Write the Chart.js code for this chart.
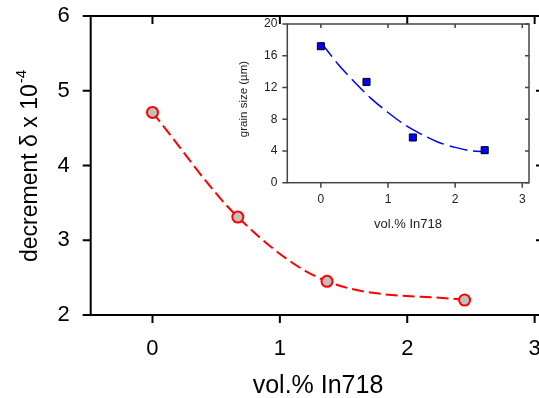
<!DOCTYPE html>
<html lang="en">
<head>
  <meta charset="UTF-8" />
  <title>Damping decrement vs vol.% In718</title>
  <script src="https://cdn.jsdelivr.net/npm/chart.js"></script>
  <style>
    html, body { margin: 0; padding: 0; background: #fff; overflow: hidden; }
    #wrap { position: relative; width: 539px; height: 398px; overflow: hidden; }
    #mainChart { position: absolute; left: 0; top: 0; }
    #insetChart { position: absolute; left: 0; top: 0; }
  </style>
</head>
<body>
  <div id="wrap">
    <canvas id="mainChart" width="560" height="398"></canvas>
    <canvas id="insetChart" width="539" height="398"></canvas>
  </div>

  <script>
    // main plot: decrement vs vol.% In718
    const volPct = [0, 0.67, 1.37, 2.45];
    const decrement = [4.71, 3.31, 2.45, 2.2];
    const mainXTicks = [0, 1, 2, 3];
    const mainYTicks = [2, 3, 4, 5, 6];

    // inset: grain size vs vol.% In718
    const grainVol = [0, 0.68, 1.37, 2.44];
    const grainSize = [17.2, 12.7, 5.7, 4.1];
    // dashed fit curve
    const fitVol = [0, 0.25, 0.5, 0.75, 1.0, 1.25, 1.5, 1.75, 2.0, 2.25, 2.45];
    const fitSize = [17.7, 15.0, 12.7, 10.6, 8.85, 7.3, 6.1, 5.1, 4.45, 4.0, 3.9];
    const insetXTicks = [0, 1, 2, 3];
    const insetYTicks = [0, 4, 8, 12, 16, 20];

    const FONT = '"Liberation Sans", Arial, sans-serif';

    function toPoints(xs, ys) {
      return xs.map((x, i) => ({ x: x, y: ys[i] }));
    }

    // draws box axes with tick marks (out on left/bottom, in on top/right)
    function drawFrame(chart, o) {
      const { ctx, chartArea: a } = chart;
      const x = chart.scales.x, y = chart.scales.y;
      ctx.save();
      ctx.strokeStyle = o.color;
      ctx.lineWidth = o.width;
      ctx.strokeRect(a.left, a.top, a.right - a.left, a.bottom - a.top);
      ctx.beginPath();
      x.ticks.forEach(t => {
        const px = x.getPixelForValue(t.value);
        ctx.moveTo(px, a.bottom); ctx.lineTo(px, a.bottom + o.out);
        ctx.moveTo(px, a.top); ctx.lineTo(px, a.top + o.inTop);
      });
      y.ticks.forEach(t => {
        const py = y.getPixelForValue(t.value);
        ctx.moveTo(a.left - o.out, py); ctx.lineTo(a.left, py);
        ctx.moveTo(a.right, py); ctx.lineTo(a.right - o.inRight, py);
      });
      ctx.stroke();
      ctx.restore();
    }

    const mainFrame = {
      id: 'mainFrame',
      afterDraw(chart) {
        drawFrame(chart, { color: '#000', width: 2, out: 8, inTop: 8, inRight: 5 });
        const ctx = chart.ctx;
        ctx.save();
        ctx.fillStyle = '#000';
        ctx.font = '25px ' + FONT;
        ctx.textAlign = 'center';
        ctx.textBaseline = 'alphabetic';
        ctx.fillText('vol.% In718', 318, 393);

        ctx.translate(37, 262);
        ctx.rotate(-Math.PI / 2);
        ctx.textAlign = 'left';
        ctx.font = '23px ' + FONT;
        const label = 'decrement δ x 10';
        ctx.fillText(label, 0, 0);
        const w = ctx.measureText(label).width;
        ctx.font = '15px ' + FONT;
        ctx.fillText('-4', w + 1, -11);
        ctx.restore();
      }
    };

    const insetFrame = {
      id: 'insetFrame',
      afterDraw(chart) {
        drawFrame(chart, { color: '#444', width: 1.5, out: 5, inTop: 4, inRight: 4 });
        const ctx = chart.ctx;
        ctx.save();
        ctx.fillStyle = '#222';
        ctx.font = '13px ' + FONT;
        ctx.textAlign = 'center';
        ctx.textBaseline = 'alphabetic';
        ctx.fillText('vol.% In718', 408, 228);

        ctx.translate(247, 99);
        ctx.rotate(-Math.PI / 2);
        ctx.font = '11.5px ' + FONT;
        ctx.fillText('grain size (µm)', 0, 0);
        ctx.restore();
      }
    };

    // fixed plot boxes: no extra padding from labels at the ends
    function fixX(h) {
      return s => { s.height = h; s.paddingLeft = 0; s.paddingRight = 0; };
    }
    function fixY(w) {
      return s => { s.width = w; s.paddingTop = 0; s.paddingBottom = 0; };
    }

    new Chart(document.getElementById('mainChart'), {
      type: 'line',
      data: {
        datasets: [{
          data: toPoints(volPct, decrement),
          borderColor: '#ff0000',
          borderWidth: 2,
          borderDash: [12, 5],
          cubicInterpolationMode: 'monotone',
          pointRadius: 5.5,
          pointBorderWidth: 2,
          pointBackgroundColor: '#c0c0c0',
          pointBorderColor: '#ff0000',
          fill: false
        }]
      },
      options: {
        responsive: false,
        animation: false,
        events: [],
        layout: { padding: { top: 16, right: 19, left: 0, bottom: 0 } },
        plugins: { legend: { display: false }, tooltip: { enabled: false } },
        scales: {
          x: {
            type: 'linear', min: -0.485, max: 3.05,
            afterBuildTicks: s => { s.ticks = mainXTicks.map(v => ({ value: v })); },
            afterFit: fixX(83),
            grid: { display: false, drawTicks: false },
            border: { display: false },
            ticks: { padding: 21, color: '#000', font: { family: FONT, size: 22 } }
          },
          y: {
            type: 'linear', min: 2, max: 6,
            afterBuildTicks: s => { s.ticks = mainYTicks.map(v => ({ value: v })); },
            afterFit: fixY(90.7),
            grid: { display: false, drawTicks: false },
            border: { display: false },
            ticks: { padding: 21, color: '#000', font: { family: FONT, size: 22 } }
          }
        }
      },
      plugins: [mainFrame]
    });

    new Chart(document.getElementById('insetChart'), {
      type: 'line',
      data: {
        datasets: [{
          data: toPoints(grainVol, grainSize),
          showLine: false,
          pointStyle: 'rect',
          pointRadius: 5,
          pointBorderWidth: 1,
          pointBackgroundColor: '#0000ff',
          pointBorderColor: '#000'
        }, {
          data: toPoints(fitVol, fitSize),
          borderColor: '#0000ff',
          borderWidth: 1.5,
          borderDash: [18, 6],
          tension: 0.3,
          pointRadius: 0,
          fill: false
        }]
      },
      options: {
        responsive: false,
        animation: false,
        events: [],
        layout: { padding: { top: 24, right: 10, left: 0, bottom: 0 } },
        plugins: { legend: { display: false }, tooltip: { enabled: false } },
        scales: {
          x: {
            type: 'linear', min: -0.5, max: 3.1,
            afterBuildTicks: s => { s.ticks = insetXTicks.map(v => ({ value: v })); },
            afterFit: fixX(398 - 182.7),
            grid: { display: false, drawTicks: false },
            border: { display: false },
            ticks: { padding: 10, color: '#222', font: { family: FONT, size: 12 } }
          },
          y: {
            type: 'linear', min: 0, max: 20,
            afterBuildTicks: s => { s.ticks = insetYTicks.map(v => ({ value: v })); },
            afterFit: fixY(287.3),
            grid: { display: false, drawTicks: false },
            border: { display: false },
            ticks: { padding: 10, color: '#222', font: { family: FONT, size: 12 } }
          }
        }
      },
      plugins: [insetFrame]
    });
  </script>
</body>
</html>
